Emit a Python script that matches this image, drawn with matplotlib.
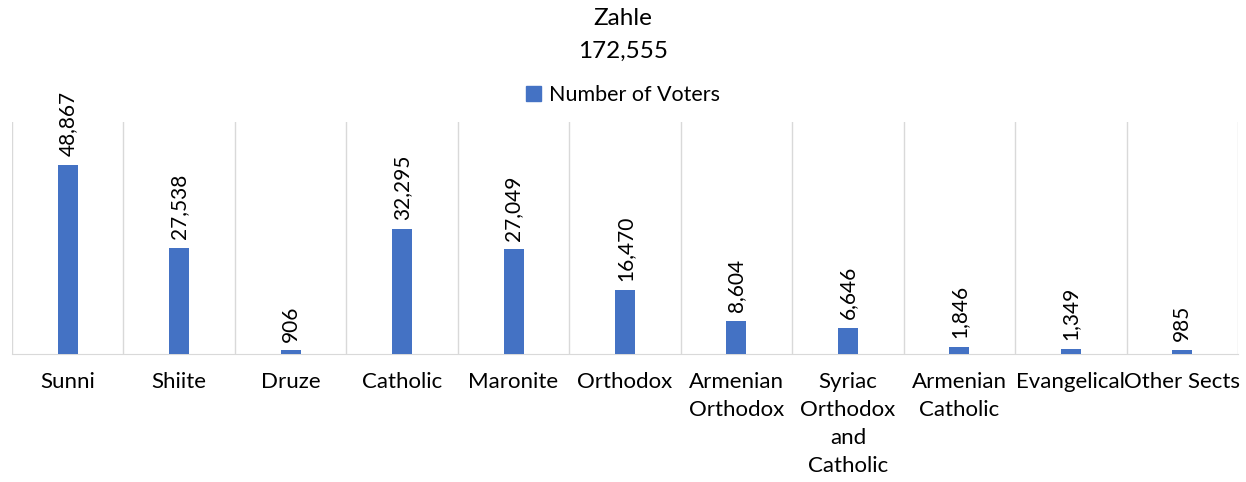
import matplotlib.pyplot as plt
from matplotlib.patches import Patch

sects = ['Sunni', 'Shiite', 'Druze', 'Catholic', 'Maronite', 'Orthodox',
         'Armenian\nOrthodox', 'Syriac\nOrthodox\nand\nCatholic', 'Armenian\nCatholic',
         'Evangelical', 'Other Sects']
voters = [48867, 27538, 906, 32295, 27049, 16470, 8604, 6646, 1846, 1349, 985]
total = '172,555'
district = 'Zahle'

BLUE = '#4472c4'
GRID = '#d9d9d9'


def main():
    plt.rcParams['font.family'] = ['Lato', 'DejaVu Sans']
    fig = plt.figure(figsize=(12.46, 4.82), dpi=100)
    ax = fig.add_axes([0.0096, 0.2656, 0.984, 0.4813])

    x = list(range(len(sects)))
    bars = ax.bar(x, voters, width=0.18, color=BLUE, zorder=3)
    for b, v in zip(bars, voters):
        ax.text(b.get_x() + b.get_width() / 2, v + 2300, f'{v:,}', rotation=90,
                ha='center', va='bottom', fontsize=15, color='#000000')

    ax.set_xlim(-0.5, len(sects) - 0.5)
    ax.set_ylim(0, 60000)
    ax.set_xticks(x)
    ax.set_xticklabels(sects, fontsize=16, linespacing=1.5)
    ax.set_xticks([i - 0.5 for i in range(len(sects) + 1)], minor=True)
    ax.tick_params(axis='x', which='both', length=0, pad=13)
    ax.set_yticks([])
    ax.grid(axis='x', which='minor', color=GRID, lw=1, zorder=0)
    for s in ('left', 'right', 'top'):
        ax.spines[s].set_visible(False)
    ax.spines['bottom'].set_color(GRID)

    fig.text(0.5, 0.962, district, ha='center', va='center', fontsize=17.5)
    fig.text(0.5, 0.893, total, ha='center', va='center', fontsize=17.5)
    fig.legend(handles=[Patch(color=BLUE, label='Number of Voters')], loc='center',
               bbox_to_anchor=(0.5, 0.803), frameon=False, fontsize=15.5,
               handlelength=0.7, handleheight=0.7, handletextpad=0.4)

    fig.savefig('out.png', dpi=100)


if __name__ == '__main__':
    main()
